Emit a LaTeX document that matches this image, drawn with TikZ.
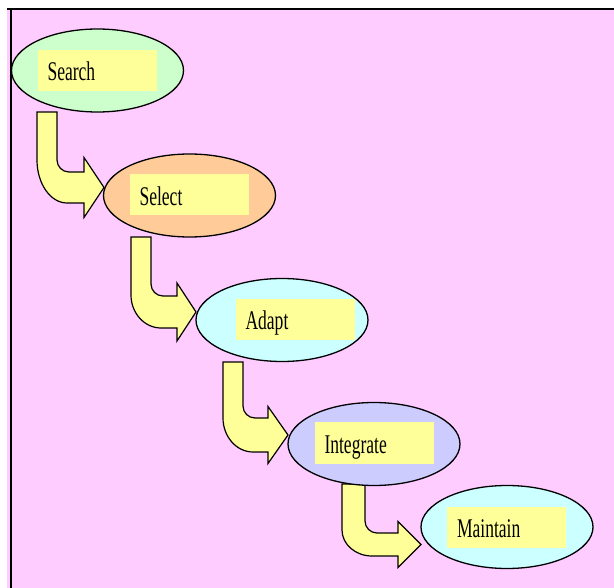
\documentclass[tikz,border=0pt]{standalone}
\usepackage{fontspec}
\usetikzlibrary{shapes.geometric}
\newfontfamily\lblfont[FakeStretch=0.65]{Liberation Serif}

\definecolor{bgpink}{RGB}{255,204,255}
\definecolor{stepgreen}{RGB}{204,255,204}
\definecolor{steppeach}{RGB}{255,204,153}
\definecolor{stepcyan}{RGB}{204,255,255}
\definecolor{steplav}{RGB}{204,204,255}
\definecolor{labelyellow}{RGB}{255,255,153}

\tikzset{
  phase/.style={ellipse, draw=black, line width=1.3pt, inner sep=0pt,
    minimum width=172pt, minimum height=83pt},
  phaselabel/.style={rectangle, fill=labelyellow, inner xsep=10pt, inner ysep=0pt,
    text width=99pt, minimum height=41pt, align=left,
    font=\lblfont\fontsize{27}{29}\selectfont, text height=18pt, text depth=0pt},
  labeltext/.style={yshift=-1.5pt},
  flowarrow/.style={fill=labelyellow, draw=black, line width=1.2pt, line join=miter}
}

% Bent block arrow: #1 left x, #2 right x, #3 top y, #4 upper edge of the
% horizontal shaft, #5 lower edge, #6 head base x, #7 tip x, #8 half head
% height, #9 vertical reach of the outer bend
\newcommand\bentarrow[9]{%
  \filldraw[flowarrow] (#1,#3) -- (#2,#3) -- (#2,{#4-12})
    .. controls (#2,{#4-5.4}) and ({#2+5.4},#4) .. ({#2+12},#4)
    -- (#6,#4) -- (#6,{(#4+#5)/2-#8}) -- (#7,{(#4+#5)/2})
    -- (#6,{(#4+#5)/2+#8}) -- (#6,#5) -- ({#1+30},#5)
    .. controls ({#1+13.5},#5) and (#1,{#5-0.45*#9}) .. (#1,{#5-#9})
    -- cycle;}

\begin{document}
\begin{tikzpicture}[x=1pt,y=-1pt]
  \useasboundingbox (0,0) rectangle (614,588);
  % page and frame
  \fill[white] (0,0) rectangle (614,588);
  \fill[bgpink] (7,10) rectangle (614,588);
  \draw[line width=2pt] (7,9) -- (614,9);
  \draw[line width=2pt] (11,10) -- (11,588);

  % arrows between the phases
  \bentarrow{37}{57}{112}{172}{203}{84}{104}{30}{43}
  \bentarrow{131}{151}{237}{296}{328}{177}{196}{29}{33}
  \bentarrow{223}{243}{362}{418}{452}{268}{288}{28.5}{34}
  \bentarrow{342}{365}{484}{533}{556}{398}{421}{23}{26}

  % phases
  \node[phase, fill=stepgreen] (search) at (97.5,70.5) {};
  \node[phase, fill=steppeach] (select) at (189.5,195.5) {};
  \node[phase, fill=stepcyan] (adapt) at (282,320) {};
  \node[phase, fill=steplav] (integrate) at (374,444) {};
  \node[phase, fill=stepcyan] (maintain) at (507,527) {};

  % labels
  \node[phaselabel] (search-l) at (97,70.5) {\raisebox{-1.5pt}{Search}};
  \node[phaselabel] (select-l) at (189,195) {\raisebox{-1.5pt}{Select}};
  \node[phaselabel] (adapt-l) at (295,319.5) {\raisebox{-1.5pt}{Adapt}};
  \node[phaselabel] (integrate-l) at (374,443) {\raisebox{-1.5pt}{Integrate}};
  \node[phaselabel] (maintain-l) at (506.5,527) {\raisebox{-1.5pt}{Maintain}};
\end{tikzpicture}
\end{document}
